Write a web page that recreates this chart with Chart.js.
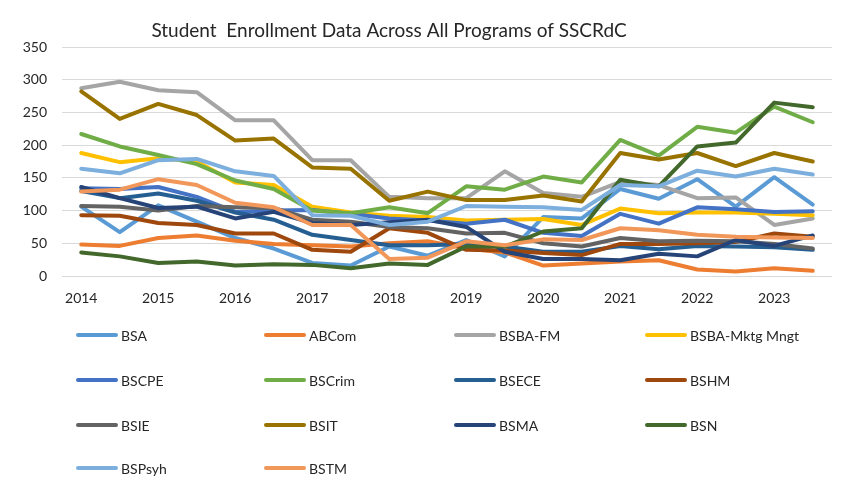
<!DOCTYPE html>
<html>
<head>
<meta charset="utf-8">
<script src="https://cdn.jsdelivr.net/npm/chart.js@4.4.0/dist/chart.umd.min.js"></script>
<style>
  html, body { margin: 0; padding: 0; background: #fff; }
  #wrap { width: 851px; height: 487px; position: relative; }
</style>
</head>
<body>
<div id="wrap"><canvas id="c" width="851" height="487"></canvas></div>
<script>
// Category points (half-year steps) and the year tick labels shown under every second point
const categories = ['2014','2014.5','2015','2015.5','2016','2016.5','2017','2017.5','2018','2018.5',
                    '2019','2019.5','2020','2020.5','2021','2021.5','2022','2022.5','2023','2023.5'];
const tickLabels = ['2014','2015','2016','2017','2018','2019','2020','2021','2022','2023'];

const BSA        = [106, 67,108, 83, 58, 42, 20, 16, 45, 31, 55, 30, 90, 88,133,118,148,106,151,109];
const ABCom      = [ 48, 46, 58, 62, 54, 49, 47, 45, 50, 53, 42, 36, 16, 19, 22, 24, 10,  7, 12,  8];
const BSBA_FM    = [287,297,284,281,238,238,177,177,121,119,119,160,127,121,144,139,119,120, 78, 88];
const BSBA_Mktg  = [188,174,180,175,143,139,106, 97, 92, 90, 85, 86, 87, 78,103, 96, 97, 97, 95, 93];
const BSCPE      = [134,133,136,121, 98,100,101, 95, 88, 85, 80, 86, 66, 61, 95, 80,105,102, 98, 99];
const BSCrim     = [217,198,185,171,146,133,100, 96,105, 96,137,132,152,143,208,184,228,219,259,235];
const BSECE      = [130,119,126,115, 97, 86, 63, 55, 47, 47, 49, 45, 37, 37, 46, 41, 46, 45, 44, 40];
const BSHM       = [ 93, 92, 81, 78, 65, 65, 40, 37, 73, 66, 40, 39, 35, 32, 49, 49, 50, 52, 65, 60];
const BSIE       = [107,106,100,107,105,104, 86, 83, 75, 73, 65, 66, 50, 45, 58, 53, 54, 53, 49, 42];
const BSIT       = [282,240,263,246,207,210,166,164,115,129,116,116,123,114,188,178,188,168,188,175];
const BSMA       = [136,119,104,106, 88, 98, 81, 78, 82, 86, 75, 37, 26, 26, 24, 34, 30, 55, 46, 62];
const BSN        = [ 36, 30, 20, 22, 16, 18, 17, 12, 19, 17, 45, 45, 68, 73,147,137,198,204,265,258];
const BSPsyh     = [164,157,177,179,160,153, 93, 92, 78, 83,107,106,105,101,139,137,161,152,164,155];
const BSTM       = [129,132,148,139,112,105, 78, 78, 26, 28, 53, 47, 56, 55, 73, 70, 63, 60, 59, 58];

const seriesNames = ['BSA','ABCom','BSBA-FM','BSBA-Mktg Mngt','BSCPE','BSCrim','BSECE','BSHM',
                     'BSIE','BSIT','BSMA','BSN','BSPsyh','BSTM'];
const seriesValues = [BSA, ABCom, BSBA_FM, BSBA_Mktg, BSCPE, BSCrim, BSECE, BSHM,
                      BSIE, BSIT, BSMA, BSN, BSPsyh, BSTM];
const seriesColors = ['#5B9BD5','#ED7D31','#A5A5A5','#FFC000','#4472C4','#70AD47','#255E91','#9E480E',
                      '#636363','#997300','#264478','#43682B','#7CAFDD','#F1975A'];

const FONT = 'Lato, "Open Sans", sans-serif';
const TEXT = '#262626';

const datasets = seriesNames.map((n, i) => ({
  label: n,
  data: seriesValues[i],
  borderColor: seriesColors[i],
  backgroundColor: seriesColors[i],
  borderWidth: 4,
  pointRadius: 0,
  pointHoverRadius: 0,
  tension: 0,
  fill: false,
  borderCapStyle: 'round',
  borderJoinStyle: 'round',
  order: seriesNames.length - i
}));

const gridLegendAndTitle = {
  id: 'gridLegendAndTitle',
  afterDraw(chart) {
    const ctx = chart.ctx;
    ctx.save();
    // title
    ctx.fillStyle = TEXT;
    ctx.font = '19px ' + FONT;
    ctx.textAlign = 'center';
    ctx.textBaseline = 'alphabetic';
    ctx.fillText('Student  Enrollment Data Across All Programs of SSCRdC', 389, 37);
    // legend grid
    const colX = [76, 264, 454, 645];
    const rowY = [335, 380, 425, 468];
    ctx.font = '14px ' + FONT;
    ctx.textAlign = 'left';
    ctx.textBaseline = 'middle';
    chart.data.datasets.forEach((ds, i) => {
      const x = colX[i % 4], y = rowY[Math.floor(i / 4)];
      ctx.strokeStyle = ds.borderColor;
      ctx.lineWidth = 4;
      ctx.lineCap = 'round';
      ctx.beginPath();
      ctx.moveTo(x + 2, y);
      ctx.lineTo(x + 40, y);
      ctx.stroke();
      ctx.fillStyle = TEXT;
      ctx.fillText(ds.label, x + 45, y + 1);
    });
    ctx.restore();
  }
};

new Chart(document.getElementById('c'), {
  type: 'line',
  data: { labels: categories, datasets },
  options: {
    responsive: false,
    animation: false,
    devicePixelRatio: 1,
    layout: { padding: { left: 0, right: 19, top: 47, bottom: 181 } },
    plugins: { legend: { display: false }, title: { display: false }, tooltip: { enabled: false } },
    scales: {
      x: {
        type: 'category',
        offset: true,
        grid: { display: false, drawTicks: false },
        border: { display: false },
        afterFit(s) { s.height = 30; },
        ticks: {
          autoSkip: false, maxRotation: 0, padding: 14,
          color: TEXT, font: { family: FONT, size: 14 },
          callback: (v, i) => (i % 2 === 0 ? tickLabels[i / 2] : '')
        }
      },
      y: {
        min: 0, max: 350,
        afterFit(s) { s.width = 62; },
        grid: { color: '#d9d9d9', lineWidth: 1, drawTicks: false },
        border: { display: false },
        ticks: { stepSize: 50, padding: 15, color: TEXT, font: { family: FONT, size: 14 } }
      }
    }
  },
  plugins: [gridLegendAndTitle]
});
</script>
</body>
</html>
